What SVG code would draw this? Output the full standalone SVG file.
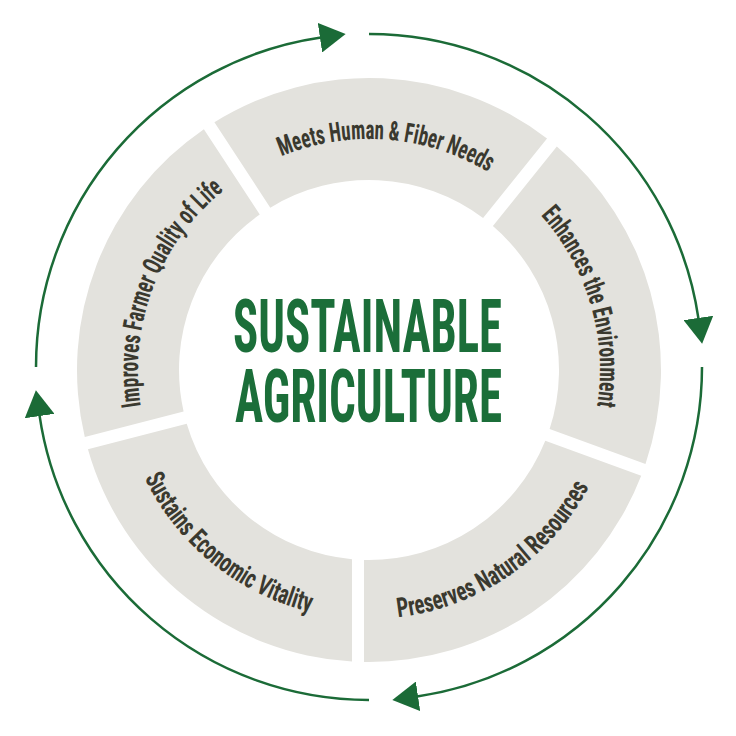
<svg xmlns="http://www.w3.org/2000/svg" width="736" height="736" viewBox="0 0 736 736">
  <style>
    .seg { fill: #e3e2dd; }
    .lbl { font-family: "Liberation Sans Narrow", "Roboto Condensed", "DejaVu Sans Condensed", "Liberation Sans", sans-serif; font-weight: bold; font-size: 27px; fill: #3a392f; }
    .title { font-family: "Liberation Sans Narrow", "Roboto Condensed", "DejaVu Sans Condensed", "Liberation Sans", sans-serif; font-weight: bold; font-size: 74px; fill: #1b6e39; }
    .cyc { fill: none; stroke: #1b6b37; stroke-width: 2.5; marker-end: url(#arrow); }
  </style>
  <defs>
    <marker id="arrow" markerUnits="userSpaceOnUse" viewBox="0 0 26 30" refX="1" refY="15" markerWidth="26" markerHeight="30" orient="auto">
      <path d="M0,0 L26,15 L0,30 Z" fill="#1b6b37"/>
    </marker>
    <path id="tp-meets" d="M 281.35 156.28 A 231 231 0 0 1 487.97 171.99"/>
    <path id="tp-enh" d="M 540.67 215.43 A 231 231 0 0 1 597.16 406.14"/>
    <path id="tp-imp" d="M 140.84 406.14 A 231 231 0 0 1 223.63 190.48"/>
    <path id="tp-pres" d="M 398.05 617.30 A 249 249 0 0 0 588.85 486.90"/>
    <path id="tp-sust" d="M 144.63 477.98 A 249 249 0 0 0 310.03 611.92"/>
  </defs>
  <rect width="736" height="736" fill="#ffffff"/>

  <g id="connectors">
    <path class="cyc" d="M 36 367 A 333 333 0 0 1 320.93 37.49"/>
    <path class="cyc" d="M 369 34 A 333 333 0 0 1 698.51 318.93"/>
    <path class="cyc" d="M 702 367 A 333 333 0 0 1 417.07 696.51"/>
    <path class="cyc" d="M 369 700 A 333 333 0 0 1 39.49 415.07"/>
  </g>

  <g id="node-improves">
    <path class="seg" d="M 84.79 436.99 A 292 292 0 0 1 203.88 129.17 L 259.75 214.55 A 190 190 0 0 0 183.58 411.45 Z"/>
    <text class="lbl"><textPath href="#tp-imp" textLength="241.9" lengthAdjust="spacingAndGlyphs">Improves Farmer Quality of Life</textPath></text>
  </g>
  <g id="node-meets">
    <path class="seg" d="M 214.42 122.27 A 292 292 0 0 1 547.03 138.53 L 483.08 218.06 A 190 190 0 0 0 270.29 207.65 Z"/>
    <text class="lbl"><textPath href="#tp-meets" textLength="214.9" lengthAdjust="spacingAndGlyphs">Meets Human &amp; Fiber Needs</textPath></text>
  </g>
  <g id="node-enhances">
    <path class="seg" d="M 556.83 146.43 A 292 292 0 0 1 645.48 463.93 L 549.60 429.03 A 190 190 0 0 0 492.90 225.96 Z"/>
    <text class="lbl"><textPath href="#tp-enh" textLength="205.6" lengthAdjust="spacingAndGlyphs">Enhances the Environment</textPath></text>
  </g>
  <g id="node-preserves">
    <path class="seg" d="M 641.20 475.78 A 292 292 0 0 1 364 661.96 L 364 559.93 A 190 190 0 0 0 545.29 440.87 Z"/>
    <text class="lbl"><textPath href="#tp-pres" textLength="240.3" lengthAdjust="spacingAndGlyphs">Preserves Natural Resources</textPath></text>
  </g>
  <g id="node-sustains">
    <path class="seg" d="M 352 661.50 A 292 292 0 0 1 87.94 449.19 L 186.73 423.64 A 190 190 0 0 0 352 559.24 Z"/>
    <text class="lbl"><textPath href="#tp-sust" textLength="219.9" lengthAdjust="spacingAndGlyphs">Sustains Economic Vitality</textPath></text>
  </g>

  <g id="node-center" transform="translate(367.5 0) scale(0.62 1)">
    <text class="title" x="-216.9" y="352" textLength="433.9" lengthAdjust="spacingAndGlyphs">SUSTAINABLE</text>
    <text class="title" x="-213.7" y="422" textLength="430.6" lengthAdjust="spacingAndGlyphs">AGRICULTURE</text>
  </g>
</svg>
